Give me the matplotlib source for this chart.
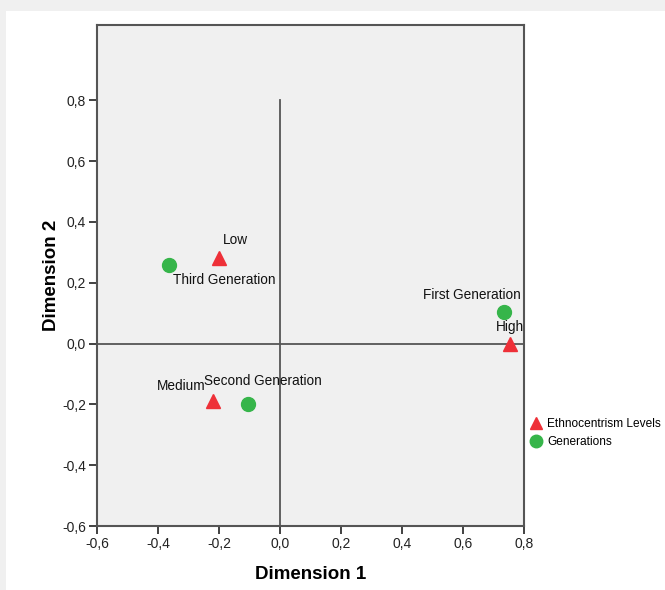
import matplotlib
matplotlib.use("Agg")
import matplotlib.pyplot as plt
from matplotlib.patches import Rectangle
from matplotlib.lines import Line2D

plt.rcParams['font.family'] = ['Liberation Sans', 'DejaVu Sans']

eth_labels = ["Low", "Medium", "High"]
eth_x = [-0.20, -0.22, 0.755]
eth_y = [0.28, -0.19, 0.0]

gen_labels = ["First Generation", "Second Generation", "Third Generation"]
gen_x = [0.735, -0.105, -0.365]
gen_y = [0.105, -0.20, 0.26]

xticks = [-0.6, -0.4, -0.2, 0.0, 0.2, 0.4, 0.6, 0.8]
yticks = [-0.6, -0.4, -0.2, 0.0, 0.2, 0.4, 0.6, 0.8]

RED = '#ee3038'
GREEN = '#36b54a'

fig = plt.figure(figsize=(6.65, 5.9), dpi=100, facecolor='#f0f0f0')
bg = Rectangle((6/665, 0), 1 - 6/665, 1 - 11/590, transform=fig.transFigure,
               facecolor='white', edgecolor='none', zorder=-10)
fig.add_artist(bg)

ax = fig.add_axes([97/665, 1 - 526/590, (524 - 97)/665, (526 - 25)/590])
ax.set_zorder(1)
ax.set_facecolor('#f0f0f0')
ax.set_xlim(-0.6, 0.8)
ax.set_ylim(-0.6, 1.048)

# reference lines
ax.axhline(0, color='#555555', lw=1.3, zorder=1)
ax.plot([0, 0], [-0.6, 0.8], color='#555555', lw=1.3, zorder=1)

ax.plot(eth_x, eth_y, linestyle='none', marker='^', markersize=10, color=RED, zorder=3)
ax.plot(gen_x, gen_y, linestyle='none', marker='o', markersize=10, color=GREEN, zorder=3)

fs = 9.8
eth_off = {"Low": (12, 13, 'center'), "Medium": (-5, 11, 'right'), "High": (0, 12, 'center')}
gen_off = {"First Generation": (-23, 12, 'center'), "Second Generation": (-32, 17, 'left'),
           "Third Generation": (3, -11, 'left')}
for lab, x, y in zip(eth_labels, eth_x, eth_y):
    dx, dy, ha = eth_off[lab]
    ax.annotate(lab, (x, y), xytext=(dx, dy), textcoords='offset points', ha=ha, va='center',
                fontsize=fs, color='#111111')
for lab, x, y in zip(gen_labels, gen_x, gen_y):
    dx, dy, ha = gen_off[lab]
    ax.annotate(lab, (x, y), xytext=(dx, dy), textcoords='offset points', ha=ha, va='center',
                fontsize=fs, color='#111111')

ax.set_xticks(xticks)
ax.set_yticks(yticks)
ax.set_xticklabels([f"{t:.1f}".replace('.', ',') for t in xticks], fontsize=10)
ax.set_yticklabels([f"{t:.1f}".replace('.', ',') for t in yticks], fontsize=10)
ax.tick_params(direction='out', length=6, width=1.3, color='#333333', labelcolor='#222222', pad=2)
for s in ax.spines.values():
    s.set_color('#555555')
    s.set_linewidth(1.5)

ax.set_xlabel("Dimension 1", fontsize=13.5, fontweight='bold', labelpad=11)
ax.set_ylabel("Dimension 2", fontsize=13.5, fontweight='bold', labelpad=1)

handles = [Line2D([], [], linestyle='none', marker='^', markersize=9, color=RED),
           Line2D([], [], linestyle='none', marker='o', markersize=9, color=GREEN)]
fig.legend(handles, ["Ethnocentrism Levels", "Generations"], loc='upper left',
           bbox_to_anchor=(523/665, 1 - 413/590), frameon=False, fontsize=8.6,
           handletextpad=0.3, labelspacing=0.55, handlelength=1.3, borderaxespad=0)

fig.savefig("out.png", dpi=100, facecolor=fig.get_facecolor())
